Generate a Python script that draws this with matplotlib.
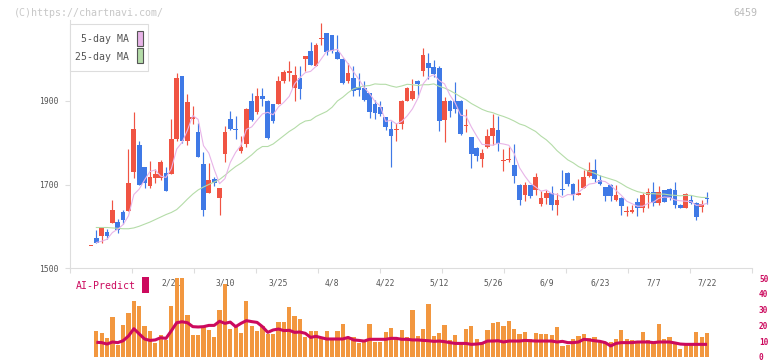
import numpy as np
import matplotlib
matplotlib.use("Agg")
import matplotlib.pyplot as plt
from matplotlib.patches import Rectangle
from matplotlib.transforms import blended_transform_factory

# ---------------- data ----------------
opens = [1554, 1571, 1576, 1586, 1608, 1609, 1633, 1636, 1730, 1794,
         1741, 1696, 1715, 1715, 1727, 1724, 1810, 1960, 1804, 1856,
         1825, 1750, 1679, 1712, 1667, 1772, 1857, 1834, 1780, 1796,
         1901, 1873, 1913, 1901, 1892, 1892, 1948, 1968, 1930, 1954,
         2000, 2019, 1983, 2048, 2063, 2058, 2018, 2001, 1948, 1956,
         1934, 1930, 1918, 1892, 1886, 1861, 1832, 1830, 1846, 1900,
         1904, 1949, 1972, 1991, 1982, 1980, 1854, 1901, 1901, 1901,
         1840, 1813, 1787, 1762, 1789, 1816, 1830, 1757, 1759, 1746,
         1700, 1674, 1698, 1688, 1654, 1668, 1680, 1651, 1690, 1728,
         1702, 1675, 1692, 1720, 1734, 1710, 1694, 1700, 1664, 1668,
         1634, 1634, 1658, 1643, 1676, 1682, 1655, 1686, 1690, 1688,
         1652, 1644, 1664, 1656, 1646, 1668]
highs = [1555, 1590, 1599, 1594, 1664, 1618, 1640, 1786, 1873, 1804,
         1742, 1756, 1736, 1758, 1741, 1858, 1967, 1960, 1916, 1889,
         1848, 1778, 1752, 1717, 1692, 1840, 1875, 1863, 1817, 1884,
         1918, 1930, 1932, 1903, 1893, 1959, 1975, 1997, 1984, 1985,
         2008, 2041, 2038, 2086, 2064, 2059, 2057, 2003, 1990, 1985,
         1966, 1948, 1919, 1902, 1900, 1862, 1852, 1848, 1903, 1933,
         1952, 1951, 2026, 2014, 1999, 1985, 1910, 1902, 1945, 1902,
         1882, 1814, 1790, 1784, 1833, 1870, 1865, 1784, 1790, 1796,
         1701, 1706, 1699, 1728, 1684, 1688, 1696, 1680, 1734, 1729,
         1704, 1712, 1734, 1754, 1760, 1722, 1695, 1701, 1698, 1669,
         1648, 1650, 1668, 1680, 1692, 1706, 1696, 1687, 1692, 1706,
         1653, 1679, 1674, 1657, 1664, 1683]
lows = [1554, 1560, 1559, 1569, 1608, 1583, 1606, 1636, 1716, 1699,
        1692, 1692, 1704, 1711, 1684, 1724, 1805, 1800, 1794, 1844,
        1766, 1624, 1679, 1696, 1627, 1754, 1830, 1810, 1776, 1790,
        1852, 1870, 1889, 1810, 1848, 1892, 1944, 1948, 1901, 1904,
        1972, 1986, 1983, 2034, 2009, 2015, 2000, 1941, 1944, 1912,
        1912, 1900, 1859, 1857, 1864, 1830, 1742, 1804, 1832, 1899,
        1902, 1909, 1960, 1952, 1958, 1828, 1801, 1862, 1872, 1819,
        1825, 1739, 1756, 1742, 1788, 1794, 1780, 1732, 1754, 1704,
        1650, 1660, 1667, 1674, 1648, 1654, 1639, 1628, 1675, 1696,
        1664, 1674, 1691, 1719, 1706, 1698, 1660, 1660, 1660, 1627,
        1624, 1631, 1624, 1635, 1644, 1648, 1652, 1658, 1664, 1644,
        1643, 1643, 1654, 1615, 1635, 1654]
closes = [1555, 1560, 1597, 1576, 1638, 1592, 1616, 1704, 1832, 1699,
          1704, 1718, 1724, 1754, 1684, 1810, 1954, 1804, 1897, 1861,
          1766, 1639, 1710, 1703, 1692, 1825, 1834, 1830, 1790, 1882,
          1854, 1913, 1904, 1812, 1853, 1949, 1969, 1973, 1962, 1928,
          2007, 1986, 2033, 2050, 2017, 2019, 2000, 1943, 1966, 1924,
          1926, 1902, 1873, 1872, 1869, 1837, 1817, 1832, 1901, 1932,
          1925, 1940, 2009, 1978, 1964, 1852, 1901, 1876, 1880, 1820,
          1842, 1772, 1768, 1776, 1817, 1836, 1796, 1759, 1761, 1720,
          1662, 1698, 1672, 1718, 1668, 1680, 1651, 1662, 1686, 1702,
          1675, 1679, 1717, 1734, 1712, 1702, 1672, 1672, 1674, 1648,
          1636, 1638, 1643, 1674, 1682, 1655, 1682, 1659, 1668, 1650,
          1644, 1678, 1656, 1622, 1654, 1667]
ma5 = [np.nan, 1561, 1564, 1569, 1585, 1593, 1604, 1625, 1676, 1689,
       1711, 1731, 1735, 1720, 1717, 1738, 1785, 1801, 1830, 1865,
       1856, 1793, 1775, 1736, 1702, 1714, 1753, 1777, 1794, 1832,
       1838, 1854, 1869, 1873, 1867, 1886, 1897, 1911, 1941, 1956,
       1968, 1971, 1983, 2001, 2019, 2021, 2024, 2006, 1989, 1970,
       1952, 1932, 1918, 1899, 1888, 1851, 1854, 1845, 1851, 1864,
       1881, 1906, 1941, 1957, 1963, 1949, 1941, 1914, 1895, 1866,
       1864, 1838, 1816, 1796, 1795, 1794, 1799, 1797, 1794, 1774,
       1740, 1720, 1703, 1694, 1684, 1687, 1678, 1676, 1669, 1676,
       1675, 1681, 1692, 1701, 1703, 1709, 1707, 1698, 1686, 1674,
       1660, 1654, 1648, 1648, 1655, 1658, 1667, 1670, 1669, 1663,
       1661, 1660, 1659, 1650, 1651, 1655]
ma25 = [np.nan, 1597, 1597, 1597, 1596, 1595, 1594, 1594, 1596, 1600,
        1605, 1610, 1616, 1622, 1628, 1633, 1640, 1652, 1665, 1677,
        1687, 1694, 1700, 1706, 1712, 1722, 1733, 1743, 1751, 1761,
        1771, 1783, 1791, 1791, 1797, 1807, 1817, 1827, 1835, 1845,
        1852, 1854, 1863, 1869, 1875, 1885, 1900, 1909, 1920, 1929,
        1933, 1936, 1937, 1941, 1940, 1940, 1936, 1933, 1936, 1940,
        1939, 1937, 1939, 1939, 1941, 1935, 1931, 1925, 1918, 1910,
        1903, 1894, 1887, 1880, 1875, 1872, 1867, 1863, 1858, 1852,
        1845, 1841, 1834, 1827, 1816, 1807, 1795, 1781, 1770, 1759,
        1752, 1743, 1737, 1731, 1727, 1721, 1717, 1713, 1709, 1702,
        1694, 1688, 1683, 1680, 1678, 1678, 1677, 1677, 1675, 1674,
        1673, 1674, 1674, 1671, 1669, 1669]
ai_bars = [np.nan, 16.5, 15.2, 12.0, 25.3, 7.6, 20.2, 27.8, 35.4, 32.3,
           19.6, 16.5, 8.9, 13.9, 10.8, 32.3, 55, 55, 26.6, 13.9,
           13.9, 19.0, 17.1, 12.7, 29.7, 46.2, 17.7, 19.0, 15.2, 35.4,
           19.6, 16.5, 19.6, 14.5, 14.5, 22.2, 22.2, 31.6, 25.9, 24.0,
           12.7, 16.5, 16.5, 12.7, 16.5, 11.4, 16.5, 20.9, 11.4, 12.7,
           8.9, 9.5, 20.9, 9.5, 9.5, 15.8, 18.4, 11.4, 17.1, 12.7,
           29.7, 13.3, 17.7, 33.5, 13.3, 15.4, 20.2, 10.8, 13.9, 9.7,
           17.7, 19.6, 11.4, 9.1, 17.1, 21.7, 22.4, 19.6, 22.8, 17.7,
           14.5, 16.0, 11.4, 15.2, 14.8, 14.8, 13.9, 19.0, 6.9, 7.8,
           11.4, 13.3, 14.5, 12.2, 12.7, 10.1, 9.5, 9.5, 11.4, 17.1,
           11.4, 10.8, 10.1, 16.0, 10.5, 9.5, 21.1, 11.4, 12.7, 8.2,
           5.1, 7.6, 8.2, 16.0, 12.7, 15.4]
ai_line = [np.nan, 9.3, 9.1, 8.2, 9.5, 9.1, 10.3, 13.3, 17.9, 14.6,
           11.4, 10.5, 10.8, 12.2, 11.8, 16.6, 21.7, 22.3, 21.7, 19.2,
           19.0, 19.2, 20.0, 20.0, 22.6, 21.3, 22.1, 19.2, 21.3, 23.0,
           22.4, 21.9, 19.2, 15.6, 17.1, 17.7, 16.7, 16.9, 15.6, 15.8,
           15.0, 12.4, 13.1, 12.2, 11.4, 11.4, 11.4, 11.4, 12.4, 10.8,
           10.5, 10.1, 11.2, 11.2, 11.2, 11.2, 11.8, 11.8, 11.2, 11.2,
           10.8, 10.8, 10.5, 10.3, 9.9, 10.1, 9.7, 9.1, 8.6, 8.6,
           8.6, 8.0, 8.2, 8.6, 10.1, 10.1, 10.3, 9.5, 10.1, 10.1,
           10.1, 10.5, 10.3, 10.1, 10.1, 10.1, 10.1, 9.5, 9.9, 9.1,
           9.1, 9.5, 11.2, 10.8, 10.3, 9.9, 9.1, 7.0, 8.6, 9.1,
           9.1, 9.1, 9.5, 9.5, 9.5, 9.1, 9.5, 9.5, 9.5, 8.9,
           8.2, 8.0, 8.0, 8.0, 8.0, 8.0]
date_labels = ["2/21", "3/10", "3/25", "4/8", "4/22", "5/12",
               "5/26", "6/9", "6/23", "7/7", "7/22"]
date_index = [16, 26, 36, 46, 56, 66, 76, 86, 96, 106, 116]
price_ticks = [1500, 1700, 1900]
ai_ticks = [0, 10, 20, 30, 40, 50]

# ---------------- styling ----------------
W, H = 772, 361
RED = "#f05443"
BLUE = "#3f79e6"
PINK = "#e8b4e8"
GREEN = "#b4dca8"
ORANGE = "#f2973f"
CRIMSON = "#cc0a5e"
GRID = "#dddddd"
TXT = "#555555"
MONO = "DejaVu Sans Mono"

fig = plt.figure(figsize=(W / 100, H / 100), dpi=100)
fig.patch.set_facecolor("white")

def fx(px):
    return px / W

def fy(py):
    return 1 - py / H

# axes pixel geometry
L, R = 70, 752
T1, B1 = 20, 268
T2, B2 = 278, 357
ax = fig.add_axes([fx(L), fy(B1), fx(R) - fx(L), fy(T1) - fy(B1)])
ax2 = fig.add_axes([fx(L), fy(B2), fx(R) - fx(L), fy(T2) - fy(B2)])

n = len(closes)
x = np.arange(1, n + 1)
step_px = 5.357
x0 = 1 - (91 - L) / step_px
x1 = x0 + (R - L) / step_px

# ---- candles ----
o = np.array(opens, float)
c = np.array(closes, float)
hi = np.array(highs, float)
lo = np.array(lows, float)
up = c >= o
cols = np.where(up, RED, BLUE)
ax.vlines(x, lo, hi, colors=cols, linewidths=0.85, zorder=2)
bot = np.minimum(o, c)
hgt = np.abs(c - o)
minh = 2.6
bot = np.where(hgt < minh, (o + c) / 2 - minh / 2, bot)
hgt = np.maximum(hgt, minh)
ax.bar(x, hgt, bottom=bot, width=0.88, color=cols, linewidth=0, zorder=3)

ax.plot(x, ma25, color=GREEN, lw=0.8, zorder=4)
ax.plot(x, ma5, color=PINK, lw=0.8, zorder=4)

ax.set_xlim(x0, x1)
ax.set_ylim(1500, 1500 + (B1 - T1) / 0.4175)
for s in ["top", "right"]:
    ax.spines[s].set_visible(False)
for s in ["left", "bottom"]:
    ax.spines[s].set_color(GRID)
    ax.spines[s].set_linewidth(0.8)
ax.set_yticks(price_ticks)
ax.set_yticklabels([str(t) for t in price_ticks], fontsize=5.8,
                   family=MONO, color=TXT)
ax.tick_params(axis="y", length=3.6, width=0.8, color=GRID, pad=4.3)
ax.set_xticks(np.linspace(x0, x1, 12))
ax.set_xticklabels([])
ax.tick_params(axis="x", length=3.6, width=0.8, color=GRID)
ax.patch.set_alpha(0)

# ---- AI panel ----
ax2.bar(x, ai_bars, width=0.78, color=ORANGE, linewidth=0, zorder=2)
ax2.plot(x, ai_line, color=CRIMSON, lw=2.2, zorder=3,
         solid_capstyle="butt")
ax2.set_xlim(x0, x1)
ax2.set_ylim(0, 50)
for s in ax2.spines.values():
    s.set_visible(False)
ax2.set_xticks([])
ax2.yaxis.tick_right()
ax2.set_yticks(ai_ticks)
ax2.set_yticklabels([str(t) for t in ai_ticks], fontsize=5.6,
                    family=MONO, color=CRIMSON, fontweight="bold")
ax2.tick_params(axis="y", length=0, pad=5)
ax2.patch.set_alpha(0)
tr = blended_transform_factory(ax2.transData, ax2.transAxes)
for lab, idx in zip(date_labels, date_index):
    ax2.text(idx, (B2 - 283) / (B2 - T2), lab, transform=tr, ha="center",
             va="center", fontsize=5.8, family=MONO, color=TXT, zorder=1)

# ---- header texts ----
fig.text(fx(14), fy(12.5), "(C)https://chartnavi.com/", fontsize=7.2,
         family=MONO, color="#c8c8c8", ha="left", va="center")
fig.text(fx(757), fy(13), "6459", fontsize=7.2, family=MONO,
         color="#bbbbbb", ha="right", va="center")

# ---- MA legend ----
fig.patches.append(Rectangle((fx(70), fy(71)), fx(148) - fx(70),
                             fy(24) - fy(71), transform=fig.transFigure,
                             facecolor="white", edgecolor=GRID, lw=0.8,
                             zorder=5))
fig.text(fx(129), fy(39.5), "5-day MA", fontsize=7.1, family=MONO,
         color=TXT, ha="right", va="center", zorder=6)
fig.text(fx(129), fy(56.5), "25-day MA", fontsize=7.1, family=MONO,
         color=TXT, ha="right", va="center", zorder=6)
fig.patches.append(Rectangle((fx(136.5), fy(46)), fx(6), fy(0) - fy(15),
                             transform=fig.transFigure, facecolor=PINK,
                             edgecolor="#555555", lw=0.8, zorder=6))
fig.patches.append(Rectangle((fx(136.5), fy(63)), fx(6), fy(0) - fy(15),
                             transform=fig.transFigure, facecolor=GREEN,
                             edgecolor="#555555", lw=0.8, zorder=6))

# ---- AI legend ----
fig.text(fx(76), fy(286), "AI-Predict", fontsize=7.1, family=MONO,
         color=CRIMSON, ha="left", va="center")
fig.patches.append(Rectangle((fx(142), fy(293)), fx(7), fy(0) - fy(16),
                             transform=fig.transFigure, facecolor=CRIMSON,
                             edgecolor="none", zorder=6))

fig.savefig("out.png", dpi=100, facecolor="white")
